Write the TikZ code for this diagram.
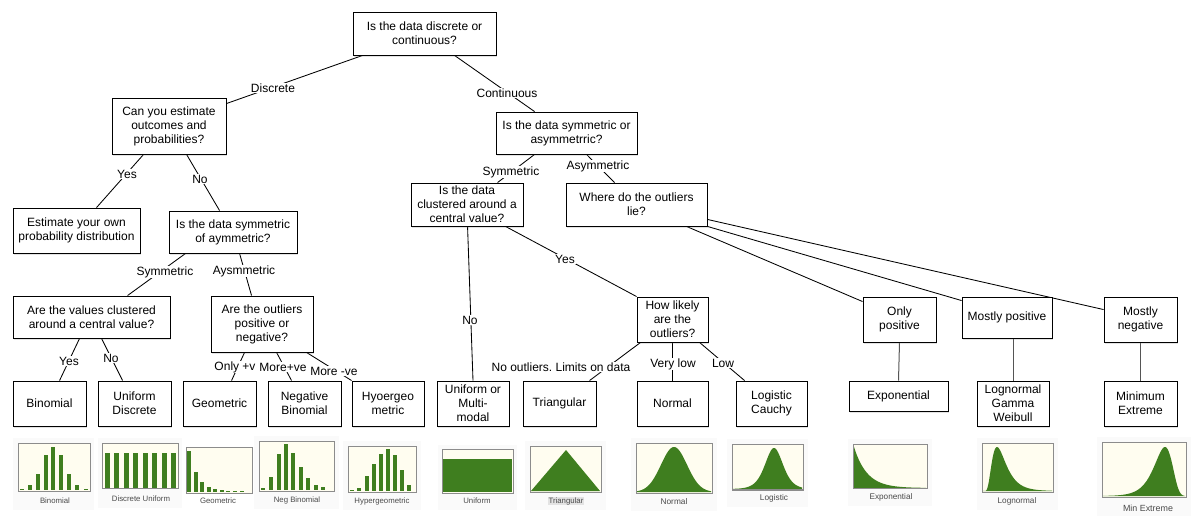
\documentclass[tikz,border=0pt]{standalone}
\usepackage{fontspec}
\setmainfont{Liberation Sans}
\usetikzlibrary{calc,shadows,backgrounds}

\definecolor{bargreen}{HTML}{3F7E1F}
\definecolor{chartbg}{HTML}{FFFDF0}
\definecolor{chartedge}{HTML}{8C8C8C}
\definecolor{captiongray}{HTML}{4A4A4A}
\definecolor{stemgray}{HTML}{555555}
\definecolor{panelgray}{HTML}{FAFAFA}

\frenchspacing
\begin{document}
\begin{tikzpicture}[x=1pt,y=-1pt,
  box/.style={draw=black, line width=0.9pt, fill=white, align=center, inner sep=0pt,
    font=\fontsize{12}{14}\selectfont,
    drop shadow={shadow xshift=1.2pt, shadow yshift=-1.6pt, opacity=0.22}},
  edge/.style={draw=black, line width=0.85pt},
  stem/.style={draw=stemgray, line width=1pt},
  elabel/.style={fill=white, inner sep=0.8pt, font=\fontsize{12}{14}\selectfont},
  frame/.style={draw=chartedge, fill=chartbg, line width=1pt},
  panel/.style={fill=panelgray},
  caption/.style={font=\fontsize{7.8}{9}\selectfont, text=captiongray, inner sep=0.6pt},
]
\useasboundingbox (0,0) rectangle (1200,518);

% ---------- decision boxes ----------
\node[box, minimum width=143pt, minimum height=43pt] (root)   at (424.5,33.5) {Is the data discrete or\\continuous?};
\node[box, minimum width=114pt, minimum height=56pt] (canest) at (169,126)    {Can you estimate\\outcomes and\\probabilities?};
\node[box, minimum width=127pt, minimum height=45pt] (estown) at (76.5,230.5) {Estimate your own\\probability distribution};
\node[box, minimum width=128pt, minimum height=42pt] (symd)   at (233,232)    {Is the data symmetric\\of aymmetric?};
\node[box, minimum width=157pt, minimum height=42pt] (clusd)  at (91.5,317)   {Are the values clustered\\around a central value?};
\node[box, minimum width=102pt, minimum height=56pt] (outd)   at (262,324)    {Are the outliers\\positive or\\negative?};
\node[box, minimum width=73pt,  minimum height=45pt] (binom)  at (49.5,403.5) {Binomial};
\node[box, minimum width=73pt,  minimum height=45pt] (unifd)  at (134.5,403.5){Uniform\\Discrete};
\node[box, minimum width=73pt,  minimum height=45pt] (geom)   at (219.5,403.5){Geometric};
\node[box, minimum width=73pt,  minimum height=45pt] (negb)   at (304.5,403.5){Negative\\Binomial};
\node[box, minimum width=72pt,  minimum height=45pt] (hyper)  at (388,403.5)  {Hyoergeo\\metric};

\node[box, minimum width=141pt, minimum height=42pt] (symc)   at (566.5,133)  {Is the data symmetric or\\asymmetrric?};
\node[box, minimum width=112pt, minimum height=43pt] (clusc)  at (467,204.5)  {Is the data\\clustered around a\\central value?};
\node[box, minimum width=141pt, minimum height=43pt] (where)  at (636.5,204.5){Where do the outliers\\lie?};
\node[box, minimum width=71pt,  minimum height=45pt] (howl)   at (672.5,319.5){How likely\\are the\\outliers?};
\node[box, minimum width=72pt,  minimum height=45pt] (unifm)  at (473,403.5)  {Uniform or\\Multi-\\modal};
\node[box, minimum width=73pt,  minimum height=45pt] (tri)    at (559.5,403.5){Triangular};
\node[box, minimum width=71pt,  minimum height=45pt] (normal) at (672.5,403.5){Normal};
\node[box, minimum width=71pt,  minimum height=45pt] (logis)  at (771.5,403.5){Logistic\\Cauchy};

\node[box, minimum width=73pt,  minimum height=45pt] (onlyp)  at (899.5,319.5){Only\\positive};
\node[box, minimum width=90pt,  minimum height=41pt] (mostp)  at (1007,317.5) {Mostly positive};
\node[box, minimum width=73pt,  minimum height=45pt] (mostn)  at (1140.5,319.5){Mostly\\negative};
\node[box, minimum width=99pt,  minimum height=30pt] (expo)   at (898.5,396)  {Exponential};
\node[box, minimum width=72pt,  minimum height=45pt] (logn)   at (1013,403.5) {Lognormal\\Gamma\\Weibull};
\node[box, minimum width=73pt,  minimum height=45pt] (minex)  at (1140.5,403.5){Minimum\\Extreme};

% ---------- connectors (behind the boxes) ----------
\begin{pgfonlayer}{background}
\fill[white] (0,0) rectangle (1200,518);
\path[edge] ($(root.south west)+(10,0)$)   -- ($(canest.north east)+(0,6)$);
\path[edge] ($(root.south west)+(102,0)$)  -- ($(symc.north west)+(39,0)$);
\path[edge] ($(canest.south west)+(32,0)$) -- ($(estown.north west)+(84,0)$);
\path[edge] ($(canest.south west)+(75,0)$) -- ($(symd.north west)+(51,0)$);
\path[edge] ($(symd.south west)+(17,0)$)   -- ($(clusd.north west)+(115,0)$);
\path[edge] ($(symd.south west)+(71,0)$)   -- ($(outd.north west)+(41,0)$);
\path[edge] ($(clusd.south west)+(67,0)$)  -- ($(binom.north west)+(47,0)$);
\path[edge] ($(clusd.south west)+(89,0)$)  -- ($(unifd.north west)+(25,0)$);
\path[edge] ($(outd.south west)+(34,0)$)   -- ($(geom.north west)+(49,0)$);
\path[edge] ($(outd.south west)+(66,0)$)   -- ($(negb.north west)+(24,0)$);
\path[edge] ($(outd.south west)+(96,0)$)   -- (hyper.north west);
\path[edge] ($(symc.south west)+(39,0)$)   -- ($(clusc.north west)+(87,0)$);
\path[edge] ($(symc.south west)+(91,0)$)   -- ($(where.north west)+(49,0)$);
\path[edge] ($(clusc.south west)+(57,0)$)  -- (unifm.north);
\path[edge] ($(clusc.south west)+(95,0)$)  -- (howl.north west);
\path[edge] ($(howl.south west)+(4,0)$)    -- ($(tri.north west)+(67,0)$);
\path[edge] (howl.south)                   -- (normal.north);
\path[edge] ($(howl.south west)+(63,0)$)   -- ($(logis.north west)+(9,0)$);
\path[edge] ($(where.south west)+(121,0)$) -- ($(onlyp.north west)+(0,5)$);
\path[edge] (where.south east)             -- ($(mostp.north west)+(0,4)$);
\path[edge] ($(where.south east)+(0,-7)$)  -- ($(mostn.north west)+(0,13)$);
\path[stem] (onlyp.south) -- (expo.north);
\path[stem] (mostp.south -| logn.north) -- (logn.north);
\path[stem] (mostn.south) -- (minex.north);
\end{pgfonlayer}

% ---------- connector labels ----------
\node[elabel] (lDisc)  at (273,88)  {Discrete};
\node[elabel] (lCont)  at (507,93)  {Continuous};
\node[elabel] (lYes1)  at (127,174) {Yes};
\node[elabel] (lNo1)   at (200,179) {No};
\node[elabel] (lSym1)  at (165,272) {Symmetric};
\node[elabel] (lAsym1) at (244,271) {Aysmmetric};
\node[elabel] (lYes2)  at (69,361)  {Yes};
\node[elabel] (lNo2)   at (111,358) {No};
\node[elabel] (lOnly)  at (235,367) {Only +v};
\node[elabel] (lMoreP) at (283,367) {More+ve};
\node[elabel] (lMoreN) at (334,371) {More -ve};
\node[elabel] (lSym2)  at (511,172) {Symmetric};
\node[elabel] (lAsym2) at (598,166) {Asymmetric};
\node[elabel] (lNo3)   at (470,320) {No};
\node[elabel] (lYes3)  at (565,259) {Yes};
\node[elabel] (lNoOut) at (561,367) {No outliers. Limits on data};
\node[elabel] (lVlow)  at (673,364) {Very low};
\node[elabel] (lLow)   at (723,363) {Low};

% ---------- distribution thumbnails ----------
% Binomial
\fill[panel] (13,438) rectangle (94,510);
\draw[frame] (18,444) rectangle (90,491);
\foreach \x/\t in {22/489,30/485,38/474,46/455,53/447,61/455,69/474,77/485,86/489}
  \fill[bargreen] (\x-2,490) rectangle (\x+2,\t);
\node[caption] (cBinom) at (55,501) {Binomial};

% Discrete uniform
\fill[panel] (98,438) rectangle (182,508);
\draw[frame] (102,444) rectangle (178,489);
\foreach \k in {0,...,7}
  \fill[bargreen] ({105+9.43*\k},488) rectangle ({110+9.43*\k},453);
\node[caption] (cDunif) at (141,499) {Discrete Uniform};

% Geometric
\draw[frame] (186,448) rectangle (252,493);
\foreach \x/\t in {189/451,196/472,202/482,209/487,215/489,222/490,228/491,235/491,242/491.3}
  \fill[bargreen] (\x-2,492) rectangle (\x+2,\t);
\node[caption] (cGeom) at (218,501) {Geometric};

% Negative binomial
\fill[panel] (254,436) rectangle (339,509);
\draw[frame] (259,442) rectangle (334,491);
\foreach \x/\t in {263/488.5,271/477,279/454,286/444,293/453,301/467,308/478,316/485,323/487.5}
  \fill[bargreen] (\x-2,490) rectangle (\x+2,\t);
\node[caption] (cNegb) at (297,500) {Neg Binomial};

% Hypergeometric
\fill[panel] (343,441) rectangle (421,510);
\draw[frame] (348,447) rectangle (416,492);
\foreach \x/\t in {352/490,359/488.5,367/476,374/464,381/454,388/449,395/455,402/470,409/485}
  \fill[bargreen] (\x-2,491) rectangle (\x+2,\t);
\node[caption] (cHyper) at (382,501) {Hypergeometric};

% Uniform
\fill[panel] (438,445) rectangle (517,510);
\draw[frame] (442,450) rectangle (513,493);
\fill[bargreen] (443,459) rectangle (512,492);
\node[caption] (cUnif) at (477,501) {Uniform};

% Triangular
\fill[panel] (525,441) rectangle (606,510);
\draw[frame] (530,447) rectangle (601,492);
\fill[bargreen] (531,491) -- (566,450) -- (600,491) -- cycle;
\node[caption, fill=black!11] (cTri) at (566,501) {Triangular};

% Normal
\fill[panel] (631,438) rectangle (717,511);
\draw[frame] (636,444) rectangle (712,493);
\fill[bargreen] (637,492) -- plot[domain=637:711, samples=90]
  (\x,{492-45*exp(-(\x-674)*(\x-674)/338)}) -- (711,492) -- cycle;
\node[caption, font=\fontsize{8.3}{9}\selectfont] (cNormal) at (674,502) {Normal};

% Logistic
\fill[panel] (727,439) rectangle (808,507);
\draw[frame] (732,445) rectangle (803,490);
\fill[bargreen] (733,489) -- plot[domain=733:802, samples=90]
  (\x,{489-41/(cosh((\x-774)/12)*cosh((\x-774)/12))}) -- (802,489) -- cycle;
\node[caption, font=\fontsize{8.3}{9}\selectfont] (cLogis) at (774,498) {Logistic};

% Exponential
\fill[panel] (848,439) rectangle (932,506);
\draw[frame] (853,445) rectangle (927,489);
\fill[bargreen] (854,488) -- plot[domain=854:926, samples=80]
  (\x,{488-41*exp(-(\x-854)/13)}) -- (926,488) -- cycle;
\node[caption, font=\fontsize{8.2}{9}\selectfont] (cExpo) at (891,497) {Exponential};

% Lognormal
\fill[panel] (977,438) rectangle (1058,510);
\draw[frame] (982,444) rectangle (1053,492);
\fill[bargreen] (983,491) -- plot[domain=983.6:1052, samples=120]
  (\x,{491-698*exp(-(ln(\x-983)-2.889)*(ln(\x-983)-2.889)/0.5)/(\x-983)}) -- (1052,491) -- cycle;
\node[caption, font=\fontsize{8.2}{9}\selectfont] (cLogn) at (1017,501) {Lognormal};

% Minimum extreme
\fill[panel] (1097,437) rectangle (1191,516);
\draw[frame] (1102,443) rectangle (1186,497);
\fill[bargreen] (1103,496) -- plot[domain=1103:1185, samples=120]
  (\x,{496-49*exp((\x-1165)/9-exp((\x-1165)/9)+1)}) -- (1185,496) -- cycle;
\node[caption, font=\fontsize{8.9}{10}\selectfont] (cMinex) at (1148,508) {Min Extreme};

\end{tikzpicture}
\end{document}
